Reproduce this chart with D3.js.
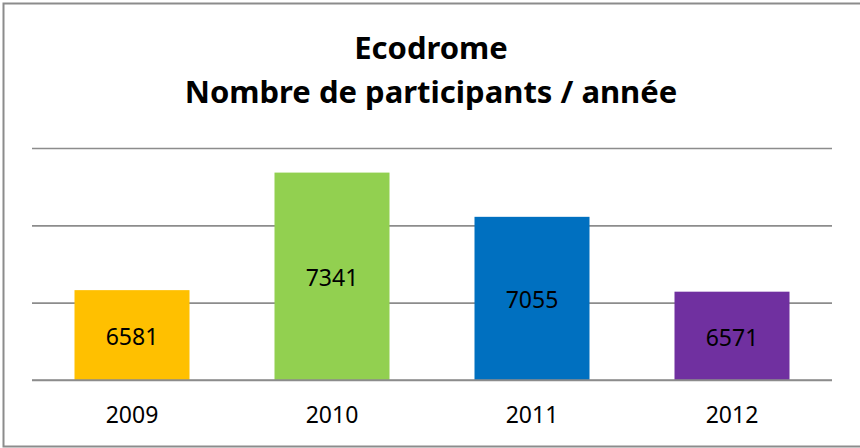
<!DOCTYPE html>
<html>
<head>
<meta charset="utf-8">
<script src="https://cdn.jsdelivr.net/npm/d3@7"></script>
<style>
  body { margin: 0; background: #fff; }
  svg { display: block; }
</style>
</head>
<body>
<svg width="860" height="448"></svg>
<script>
const years = ["2009", "2010", "2011", "2012"];
const participants = [6581, 7341, 7055, 6571];
const barColors = ["#FFC000", "#92D050", "#0070C0", "#7030A0"];
const gridTicks = [6000, 6500, 7000, 7500];
const titleLines = ["Ecodrome", "Nombre de participants / année"];

const svg = d3.select("svg");
const width = +svg.attr("width");
const height = +svg.attr("height");
const fontFamily = "'Noto Sans', sans-serif";

const data = years.map((y, i) => ({ year: y, value: participants[i], color: barColors[i] }));

// outer frame (right side runs off the picture)
svg.append("path")
  .attr("d", `M${width + 5},3.5 H3.5 V446.5 H${width + 5}`)
  .attr("fill", "none")
  .attr("stroke", "#8c8c8c")
  .attr("stroke-width", 2);

const margin = { top: 148, right: 28, bottom: 68, left: 32 };
const innerWidth = width - margin.left - margin.right;
const innerHeight = height - margin.top - margin.bottom;

const xScale = d3.scaleBand()
  .domain(years)
  .range([0, innerWidth])
  .paddingInner(0.425)
  .paddingOuter(0.2125);

const yScale = d3.scaleLinear()
  .domain([6000, 7500])
  .range([innerHeight, 0]);

const g = svg.append("g")
  .attr("transform", `translate(${margin.left},${margin.top})`);

// gridlines
const yAxis = d3.axisLeft(yScale).tickValues(gridTicks).tickSize(-innerWidth).tickFormat("");
const yAxisG = g.append("g").call(yAxis);
yAxisG.select(".domain").remove();
yAxisG.selectAll(".tick line")
  .attr("stroke", "#8c8c8c")
  .attr("stroke-width", 1.6);

// bars
g.selectAll("rect.bar")
  .data(data)
  .enter()
  .append("rect")
  .attr("class", "bar")
  .attr("x", (d) => xScale(d.year))
  .attr("width", xScale.bandwidth())
  .attr("y", (d) => yScale(d.value))
  .attr("height", (d) => yScale(6000) - yScale(d.value))
  .attr("fill", (d) => d.color);

// baseline drawn over bars
g.append("line")
  .attr("x1", 0).attr("x2", innerWidth)
  .attr("y1", yScale(6000)).attr("y2", yScale(6000))
  .attr("stroke", "#8c8c8c")
  .attr("stroke-width", 1.6);

// value labels
g.selectAll("text.value")
  .data(data)
  .enter()
  .append("text")
  .attr("class", "value")
  .attr("x", (d) => xScale(d.year) + xScale.bandwidth() / 2)
  .attr("y", (d) => (yScale(d.value) + yScale(6000)) / 2 + 10)
  .attr("text-anchor", "middle")
  .attr("font-family", fontFamily)
  .attr("font-size", 23)
  .attr("fill", "#000")
  .text((d) => d.value);

// x axis labels
const xAxis = d3.axisBottom(xScale).tickSize(0).tickPadding(0);
const xAxisG = g.append("g")
  .attr("transform", `translate(0,${innerHeight})`)
  .attr("font-family", fontFamily)
  .call(xAxis)
  .attr("font-size", 23)
  .attr("font-family", fontFamily);
xAxisG.select(".domain").remove();
xAxisG.selectAll(".tick text")
  .attr("dy", null)
  .attr("y", 43)
  .attr("fill", "#000");

// title
svg.selectAll("text.title")
  .data(titleLines)
  .enter()
  .append("text")
  .attr("class", "title")
  .attr("x", 431)
  .attr("y", (d, i) => 59 + i * 44)
  .attr("text-anchor", "middle")
  .attr("font-family", fontFamily)
  .attr("font-size", 31)
  .attr("font-weight", "bold")
  .attr("fill", "#000")
  .text((d) => d);
</script>
</body>
</html>
